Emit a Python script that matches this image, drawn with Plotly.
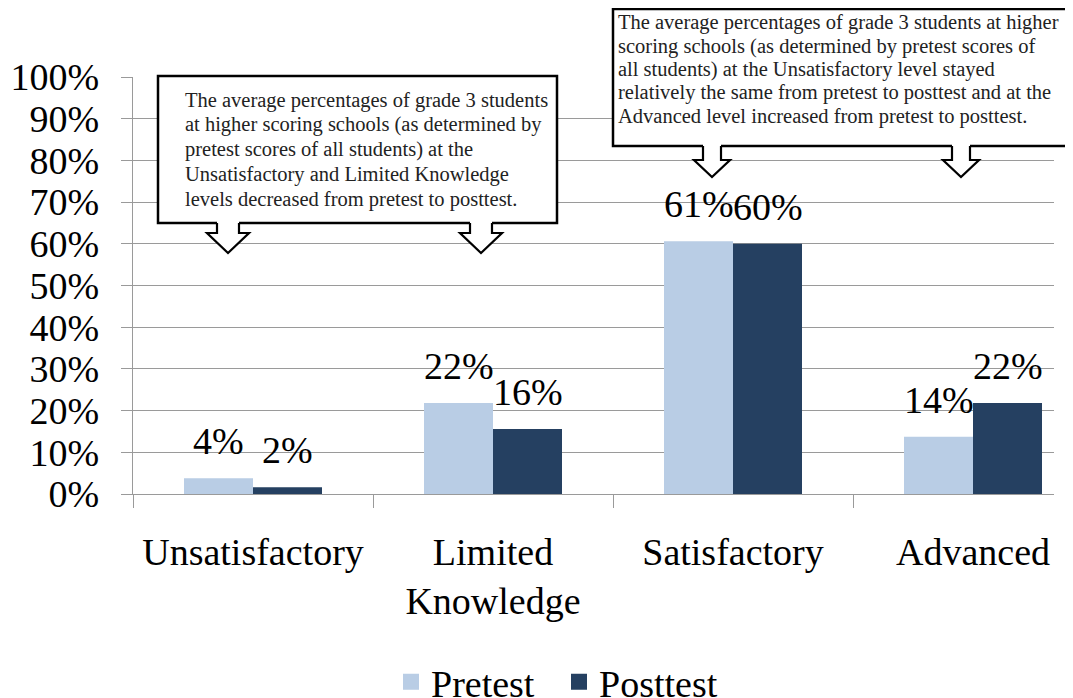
import plotly.graph_objects as go

# ---------------- data ----------------
categories = ["Unsatisfactory", "Limited<br>Knowledge", "Satisfactory", "Advanced"]
series_names = ["Pretest", "Posttest"]
pretest = [0.038, 0.218, 0.606, 0.137]
posttest = [0.016, 0.156, 0.600, 0.218]
y_ticks = [0.0, 0.1, 0.2, 0.3, 0.4, 0.5, 0.6, 0.7, 0.8, 0.9, 1.0]

callout1_lines = [
    "The average percentages of grade 3 students",
    "at higher scoring schools (as determined by",
    "pretest scores of all students) at the",
    "Unsatisfactory and Limited Knowledge",
    "levels decreased from pretest to posttest.",
]
callout2_lines = [
    "The average percentages of grade 3 students at higher",
    "scoring schools (as determined by pretest scores of",
    "all students) at the Unsatisfactory level stayed",
    "relatively the same from pretest to posttest and at the",
    "Advanced level increased from pretest to posttest.",
]

# ---------------- style ----------------
LIGHT = "#B9CDE5"
DARK = "#254061"
GRID = "#9a9a9a"
FONT = "Liberation Serif, Times New Roman, serif"
BIG = 38
OFF = 8  # page body margin offset
W, H = 1073 - OFF, 698 - OFF
PW, PH = 921, 417
L, T = 133 - OFF, 77 - OFF
R, B = W - L - PW, H - T - PH


def px(x):
    return (x - OFF - L) / PW


def py(y):
    return (T + OFF + PH - y) / PH


xs = list(range(len(categories)))
colors = [LIGHT, DARK]
fig = go.Figure()
for name, vals, col in zip(series_names, (pretest, posttest), colors):
    fig.add_bar(x=xs, y=vals, name=name, marker_color=col, marker_line_width=0,
                showlegend=False, legendgroup=name)
# legend entries with larger square swatches
for name, col in zip(series_names, colors):
    fig.add_scatter(x=[None], y=[None], mode="markers", name=name, legendgroup=name,
                    marker=dict(symbol="square", size=16, color=col, line=dict(width=0)),
                    showlegend=True)

cat_px = 240.0
x_right = -0.5 + PW / cat_px

fig.update_layout(
    width=W, height=H,
    margin=dict(l=L, r=R, t=T, b=B, pad=0, autoexpand=False),
    paper_bgcolor="white", plot_bgcolor="white",
    barmode="group", bargap=0.425, bargroupgap=0,
    font=dict(family=FONT, color="black", size=BIG),
    showlegend=True,
    legend=dict(orientation="h", x=px(391), xanchor="left", y=py(682), yanchor="middle",
                entrywidth=123, entrywidthmode="pixels",
                font=dict(family=FONT, size=BIG, color="black"), bgcolor="rgba(0,0,0,0)"),
    xaxis=dict(range=[-0.5, x_right], tickmode="array", tickvals=xs, ticktext=categories,
               ticks="", showline=True, linecolor=GRID, linewidth=1.3, showgrid=False,
               zeroline=False, tickfont=dict(family=FONT, size=BIG, color="black"),
               ticklabelstandoff=24,
               minor=dict(tickmode="array", tickvals=[i - 0.5 for i in xs], ticks="outside",
                          ticklen=13, tickcolor=GRID, tickwidth=1.3, showgrid=False)),
    yaxis=dict(range=[0, 1], tickmode="array", tickvals=y_ticks, tickformat=".0%",
               ticks="outside", ticklen=11, tickcolor=GRID, tickwidth=1.3,
               showgrid=True, gridcolor=GRID, gridwidth=1.3, showline=True,
               linecolor=GRID, linewidth=1.3, zeroline=False,
               tickfont=dict(family=FONT, size=BIG, color="black"), ticklabelstandoff=14),
)

annotations = []
for vals, shift in ((pretest, -34.5), (posttest, 34.5)):
    for i, v in zip(xs, vals):
        annotations.append(dict(x=i, y=v, xref="x", yref="y", xshift=shift, yshift=14,
                                text=f"{round(v * 100)}%", showarrow=False,
                                xanchor="center", yanchor="bottom",
                                font=dict(family=FONT, size=BIG, color="black")))


def add_lines(lines, left, first_base, spacing, fs):
    for k, line in enumerate(lines):
        base = first_base + k * spacing
        annotations.append(dict(x=px(left), y=py(base - 0.33 * fs), xref="paper", yref="paper",
                                text=line, showarrow=False, xanchor="left", yanchor="middle",
                                font=dict(family=FONT, size=fs, color="#222")))


shapes = []


def add_box(x0, y0, x1, y1):
    shapes.append(dict(type="rect", xref="paper", yref="paper", x0=px(x0), x1=px(x1),
                       y0=py(y1), y1=py(y0), fillcolor="white",
                       line=dict(color="black", width=2.5), layer="above"))


def add_arrow(cx, top, shaft_len, sh, hh, head_h):
    pts = [(cx - sh, top), (cx - sh, top + shaft_len), (cx - hh, top + shaft_len),
           (cx, top + shaft_len + head_h), (cx + hh, top + shaft_len), (cx + sh, top + shaft_len),
           (cx + sh, top)]
    cover = [(cx - sh, top - 3)] + pts[1:-1] + [(cx + sh, top - 3)]
    path_fill = "M " + " L ".join(f"{px(x):.5f},{py(y):.5f}" for x, y in cover) + " Z"
    path_line = "M " + " L ".join(f"{px(x):.5f},{py(y):.5f}" for x, y in pts)
    shapes.append(dict(type="path", xref="paper", yref="paper", path=path_fill,
                       fillcolor="white", line=dict(width=0), layer="above"))
    shapes.append(dict(type="path", xref="paper", yref="paper", path=path_line,
                       fillcolor="rgba(0,0,0,0)", line=dict(color="black", width=2.2),
                       layer="above"))


add_box(158, 76, 557, 223)
add_arrow(228, 223, 10, 11, 21, 20)
add_arrow(481, 223, 10, 11, 21, 20)
add_box(613, 9, 1095, 146)
add_arrow(712, 146, 14, 9, 18, 17)
add_arrow(961, 146, 14, 9, 18, 17)

add_lines(callout1_lines, 183, 107, 24.7, 20.5)
add_lines(callout2_lines, 616, 29.5, 23.4, 20.5)

fig.update_layout(shapes=shapes, annotations=annotations)
fig.write_html("out.html")
